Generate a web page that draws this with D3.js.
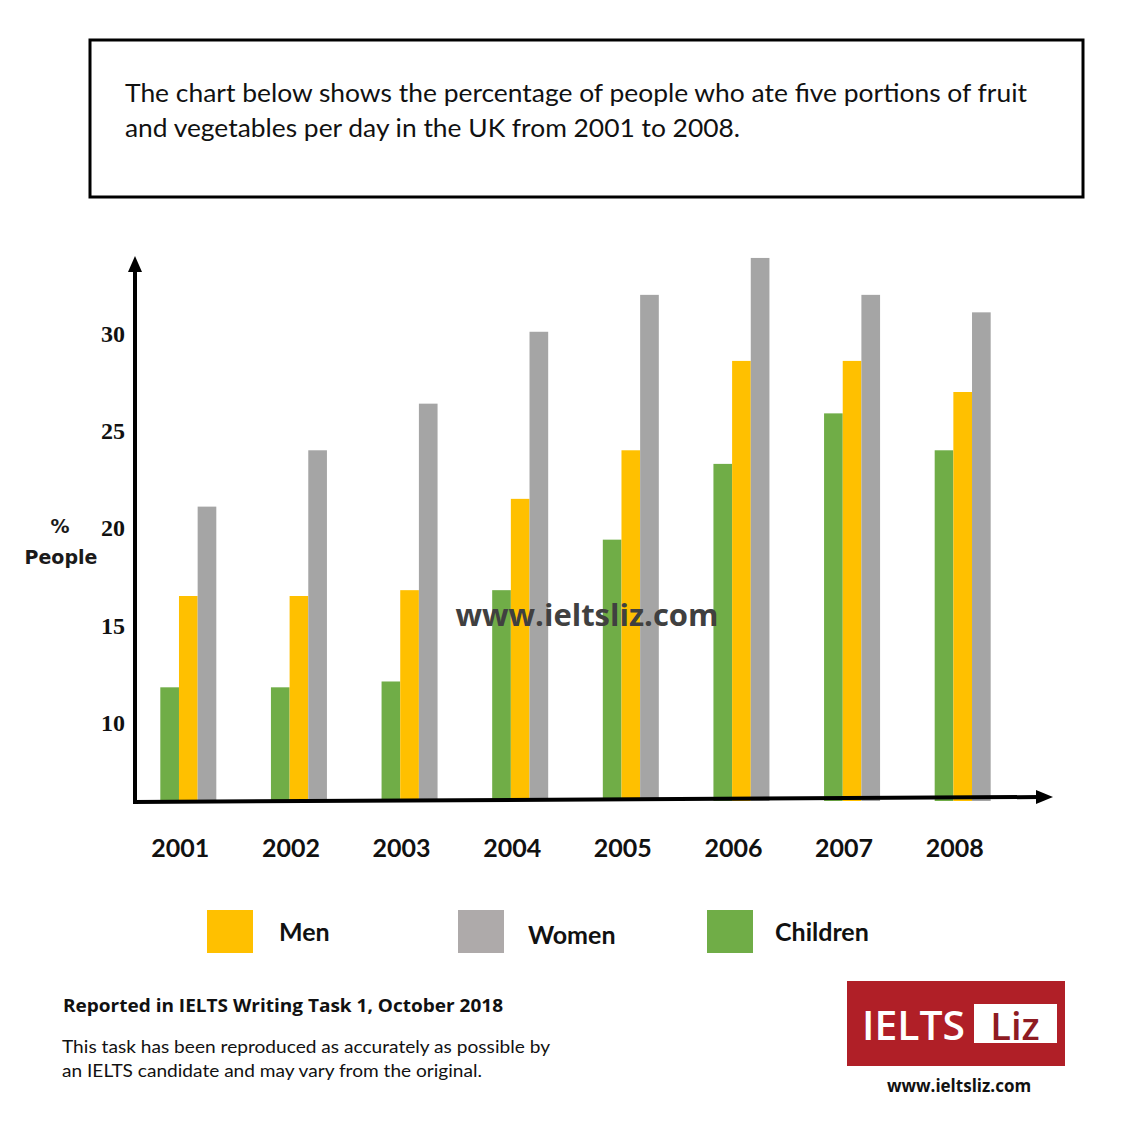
<!DOCTYPE html>
<html><head><meta charset="utf-8">
<script src="https://cdn.jsdelivr.net/npm/d3@7"></script>
<style>html,body{margin:0;padding:0;background:#fff;}svg{display:block;}</style>
</head><body>
<script>
const years = ["2001","2002","2003","2004","2005","2006","2007","2008"];
const children = [11.8, 11.8, 12.1, 16.8, 19.4, 23.3, 25.9, 24.0];
const men      = [16.5, 16.5, 16.8, 21.5, 24.0, 28.6, 28.6, 27.0];
const women    = [21.1, 24.0, 26.4, 30.1, 32.0, 33.9, 32.0, 31.1];
const seriesNames = ["Children","Men","Women"];
const yTicks = [10, 15, 20, 25, 30];
const legendNames = ["Men","Women","Children"];
const titleLines = ["The chart below shows the percentage of people who ate five portions of fruit",
                    "and vegetables per day in the UK from 2001 to 2008."];

const colors = {Children:"#70AD47", Men:"#FFC000", Women:"#A5A5A5"};
const legendColors = {Men:"#FFC000", Women:"#AEAAAA", Children:"#70AD47"};

const W = 1128, H = 1148;
const svg = d3.select("body").append("svg").attr("width", W).attr("height", H);
svg.append("rect").attr("width", W).attr("height", H).attr("fill", "#fff");

// Title box
svg.append("rect").attr("x", 90).attr("y", 40).attr("width", 993).attr("height", 157)
  .attr("fill", "none").attr("stroke", "#000").attr("stroke-width", 3);
svg.selectAll("text.title").data(titleLines).enter().append("text")
  .attr("x", 125).attr("y", (d, i) => 102 + i * 35)
  .attr("font-family", "Lato, 'Open Sans', sans-serif").attr("font-size", 25)
  .attr("fill", "#111")
  .attr("textLength", (d, i) => i === 0 ? 902 : 615).attr("lengthAdjust", "spacingAndGlyphs")
  .text(d => d);

// Scales
const x = d3.scaleBand().domain(years).range([133, 1018]).padding(0);
const inner = d3.scaleBand().domain(seriesNames).range([0, 56]).padding(0);
const y = d3.scaleLinear().domain([6, 34]).range([800, 256]);

const data = years.map((yr, i) => ({year: yr, Children: children[i], Men: men[i], Women: women[i]}));

const g = svg.append("g");
const groups = g.selectAll("g.grp").data(data).enter().append("g")
  .attr("transform", d => `translate(${x(d.year) + x.bandwidth() / 2 - 28},0)`);
groups.selectAll("rect").data(d => seriesNames.map(s => ({s, v: d[s]}))).enter().append("rect")
  .attr("x", d => inner(d.s)).attr("width", inner.bandwidth())
  .attr("y", d => y(d.v)).attr("height", d => y(6) - y(d.v) + 1)
  .attr("fill", d => colors[d.s]);

// Axes (arrows)
const axisX0 = 135;
svg.append("line").attr("x1", axisX0).attr("x2", axisX0).attr("y1", y(6) + 3).attr("y2", y.range()[1] + 12)
  .attr("stroke", "#000").attr("stroke-width", 4);
svg.append("path").attr("d", `M${axisX0 - 7},${y.range()[1] + 16} L${axisX0},${y.range()[1]} L${axisX0 + 7},${y.range()[1] + 16} Z`).attr("fill", "#000");
svg.append("line").attr("x1", axisX0 - 2).attr("x2", 1040).attr("y1", y(6) + 2).attr("y2", y(6) - 3)
  .attr("stroke", "#000").attr("stroke-width", 4);
svg.append("path").attr("d", `M1036,${y(6) - 10} L1053,${y(6) - 3} L1036,${y(6) + 4} Z`).attr("fill", "#000");

// Y tick labels
svg.selectAll("text.ytick").data(yTicks).enter().append("text")
  .attr("x", 125).attr("y", d => y(d)).attr("dy", "0.35em")
  .attr("text-anchor", "end")
  .attr("font-family", "'Liberation Serif', 'Times New Roman', serif").attr("font-weight", "bold")
  .attr("font-size", 24).attr("fill", "#111").text(d => d);

// Y axis title
svg.append("text").attr("x", 60).attr("y", 533).attr("text-anchor", "middle")
  .attr("font-family", "'DejaVu Sans', Verdana, sans-serif").attr("font-weight", "bold")
  .attr("font-size", 19).attr("fill", "#1a1a1a").text("%");
svg.append("text").attr("x", 61).attr("y", 564).attr("text-anchor", "middle")
  .attr("font-family", "'DejaVu Sans', Verdana, sans-serif").attr("font-weight", "bold")
  .attr("font-size", 19).attr("fill", "#1a1a1a").text("People");

// X labels
svg.selectAll("text.xl").data(years).enter().append("text")
  .attr("x", d => x(d) + x.bandwidth() / 2 - 8).attr("y", 857).attr("text-anchor", "middle")
  .attr("font-family", "Lato, 'Open Sans', sans-serif").attr("font-weight", "bold")
  .attr("font-size", 25).attr("fill", "#111").text(d => d);

// Watermark
svg.append("text").attr("x", 587).attr("y", 626).attr("text-anchor", "middle")
  .attr("font-family", "'Open Sans', sans-serif").attr("font-weight", "bold")
  .attr("font-size", 31).attr("fill", "#404040").text("www.ieltsliz.com");

// Legend
const legendX = [207, 458, 707];
const lg = svg.selectAll("g.leg").data(legendNames).enter().append("g")
  .attr("transform", (d, i) => `translate(${legendX[i]},910)`);
lg.append("rect").attr("width", 46).attr("height", 43).attr("fill", d => legendColors[d]);
lg.append("text").attr("x", (d, i) => i === 1 ? 70 : (i === 2 ? 68 : 72)).attr("y", (d, i) => i === 1 ? 34 : 31)
  .attr("font-family", "Lato, 'Open Sans', sans-serif").attr("font-weight", "bold")
  .attr("font-size", 25).attr("fill", "#111").text(d => d);

// Footer
svg.append("text").attr("x", 63).attr("y", 1012)
  .attr("font-family", "'Open Sans', sans-serif").attr("font-weight", "bold")
  .attr("font-size", 17).attr("fill", "#111")
  .attr("textLength", 440).attr("lengthAdjust", "spacingAndGlyphs")
  .text("Reported in IELTS Writing Task 1, October 2018");
const foot = ["This task has been reproduced as accurately as possible by",
              "an IELTS candidate and may vary from the original."];
svg.selectAll("text.foot").data(foot).enter().append("text")
  .attr("x", 62).attr("y", (d, i) => 1053 + i * 24)
  .attr("font-family", "Lato, 'Open Sans', sans-serif").attr("font-size", 18).attr("fill", "#111")
  .attr("textLength", (d, i) => i === 0 ? 488 : 420).attr("lengthAdjust", "spacingAndGlyphs")
  .text(d => d);

// Logo
svg.append("rect").attr("x", 847).attr("y", 981).attr("width", 218).attr("height", 85).attr("fill", "#B01F27");
svg.append("text").attr("x", 862).attr("y", 1040)
  .attr("font-family", "'Open Sans', sans-serif").attr("font-weight", 600).attr("font-size", 40).attr("fill", "#fff")
  .attr("textLength", 103).attr("lengthAdjust", "spacingAndGlyphs").text("IELTS");
svg.append("rect").attr("x", 974).attr("y", 1004).attr("width", 83).attr("height", 39).attr("fill", "#fff");
svg.append("text").attr("x", 1015).attr("y", 1040).attr("text-anchor", "middle")
  .attr("font-family", "'Open Sans', sans-serif").attr("font-weight", 600).attr("font-size", 38).attr("fill", "#8E1B22").text("Liz");
svg.append("text").attr("x", 959).attr("y", 1092).attr("text-anchor", "middle")
  .attr("font-family", "'Open Sans', sans-serif").attr("font-weight", "bold")
  .attr("font-size", 17).attr("fill", "#111").text("www.ieltsliz.com");
</script>
</body></html>
